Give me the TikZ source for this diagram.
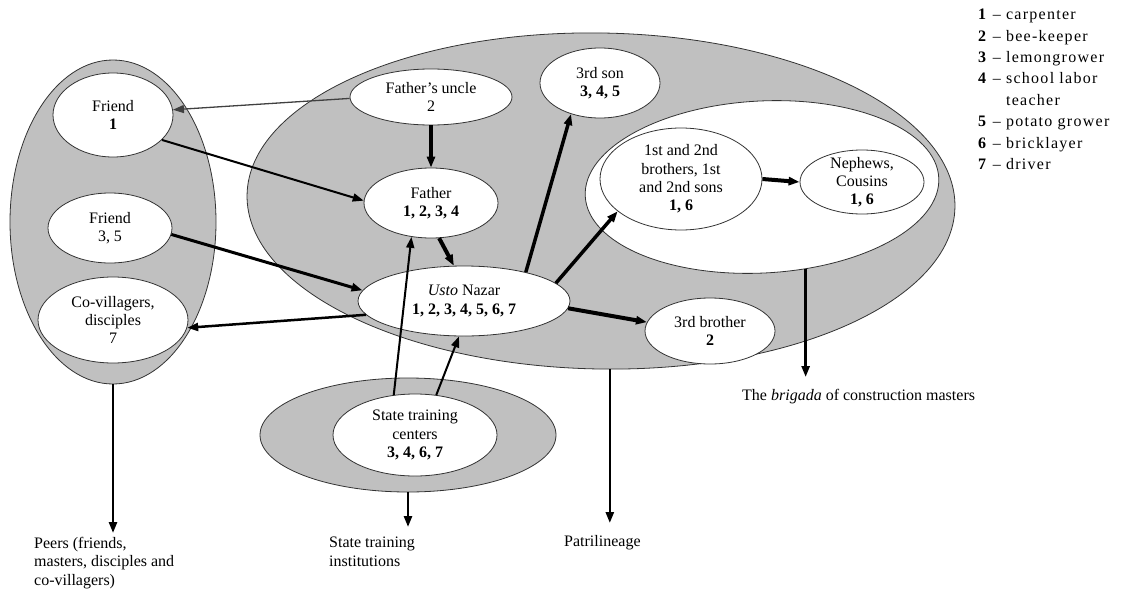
\documentclass[tikz,border=0pt]{standalone}
\usepackage{fontspec}
\setmainfont{Liberation Serif}
\newfontfamily\keyfont[LetterSpace=8]{Liberation Serif}
\usetikzlibrary{arrows.meta, shapes.geometric}
\definecolor{zonegray}{RGB}{192,192,192}
\tikzset{
    zone/.style={ellipse, draw=black!80, line width=0.8pt, fill=zonegray, inner sep=0pt},
    role/.style={ellipse, draw=black!80, line width=0.8pt, fill=white, inner sep=0pt, align=center,
        font=\fontsize{16}{18.3}\selectfont},
    sz/.style 2 args={minimum width=#1, minimum height=#2},
    tie/.style={draw=black, line width=#1, -{Triangle[length=11pt,width=8pt]}},
    tie/.default=2pt,
    tag/.style={inner sep=0pt, align=left, anchor=north west, font=\fontsize{16}{18.3}\selectfont}
}

\begin{document}
\begin{tikzpicture}[x=1pt, y=-1pt]
    \useasboundingbox (0,0) rectangle (1121,589);
    % grey groups
    \node[zone, sz={206pt}{324pt}] (peers) at (113,222) {};
    \node[zone, sz={708pt}{336pt}, rotate=-1] (patri) at (601,201) {};
    \node[zone, sz={296pt}{114pt}] (schools) at (408,435) {};
    \node[role, sz={354pt}{172pt}, rotate=3] (brigada) at (762,187) {};
    % people
    \node[role, sz={120pt}{84pt}] (friendA) at (113,115) {Friend\\\textbf{1}};
    \node[role, sz={124pt}{70pt}] (friendB) at (110,228) {Friend\\3, 5};
    \node[role, sz={150pt}{86pt}] (covil) at (113,320) {Co-villagers,\\disciples\\7};
    \node[role, sz={162pt}{56pt}] (uncle) at (431,97) {Father's uncle\\2};
    \node[role, sz={134pt}{70pt}] (father) at (431,203) {Father\\\textbf{1, 2, 3, 4}};
    \node[role, sz={212pt}{70pt}] (usto) at (464,301) {\textit{Usto} Nazar\\\textbf{1, 2, 3, 4, 5, 6, 7}};
    \node[role, sz={120pt}{70pt}] (sonC) at (600,83) {3rd son\\\textbf{3, 4, 5}};
    \node[role, sz={162pt}{102pt}] (brothers) at (681,179) {1st and 2nd\\brothers, 1st\\and 2nd sons\\\textbf{1, 6}};
    \node[role, sz={124pt}{64pt}, inner ysep=-6pt] (nephews) at (862,182) {Nephews,\\Cousins\\\textbf{1, 6}};
    \node[role, sz={130pt}{66pt}] (broC) at (710,331) {3rd brother\\\textbf{2}};
    \node[role, sz={164pt}{82pt}] (centers) at (415,435) {State training\\centers\\\textbf{3, 4, 6, 7}};
    % ties
    \draw[tie=1.3pt, draw=black!75] (uncle.181) -- (friendA.5);
    \draw[tie=2pt] (friendA.-27) -- (father.178);
    \draw[tie=3pt] (friendB.-6) -- (usto.174);
    \draw[tie=2.5pt] (usto.188) -- (covil.-6);
    \draw[tie=4pt] (uncle.south) -- (father.north);
    \draw[tie=4pt] (father.-77) -- (usto.106);
    \draw[tie=2pt] (centers.118) -- (father.240);
    \draw[tie=2pt] (centers.62) -- (usto.262);
    \draw[tie=3.5pt] (usto.25) -- (sonC.227);
    \draw[tie=3.5pt] (usto.11) -- (brothers.207);
    \draw[tie=4pt] (usto.-4) -- (broC.172);
    \draw[tie=4pt] (brothers.east) -- (nephews.west);
    % down to the captions
    \coordinate (peersTip) at (113,533);
    \coordinate (schoolsTip) at (408,527);
    \coordinate (patriTip) at (613,523);
    \coordinate (brigadaTip) at (805,377);
    \draw[tie=2.5pt] (peers.south) -- (peersTip);
    \draw[tie=2.5pt] (schools.south) -- (schoolsTip);
    \draw[tie=2.5pt] (patri.-86) -- (patri.-86 |- patriTip);
    \draw[tie=2.5pt] (brigada.-65) -- (brigada.-65 |- brigadaTip);
    \node[tag] (peersTag) at (34,537) {Peers (friends,\\masters, disciples and\\co-villagers)};
    \node[tag] (schoolsTag) at (329,537) {State training\\institutions};
    \node[tag] (patriTag) at (564,535) {Patrilineage};
    \node[tag] (brigadaTag) at (742,389) {The \textit{brigada} of construction masters};
    % key
    \node[tag, font=\keyfont\fontsize{16}{21.4}\selectfont] (key) at (978,9) {\textbf{1} – carpenter\\
        \textbf{2} – bee-keeper\\
        \textbf{3} – lemongrower\\
        \textbf{4} – school labor\\
        \phantom{\textbf{4} – }teacher\\
        \textbf{5} – potato grower\\
        \textbf{6} – bricklayer\\
        \textbf{7} – driver};
\end{tikzpicture}
\end{document}
